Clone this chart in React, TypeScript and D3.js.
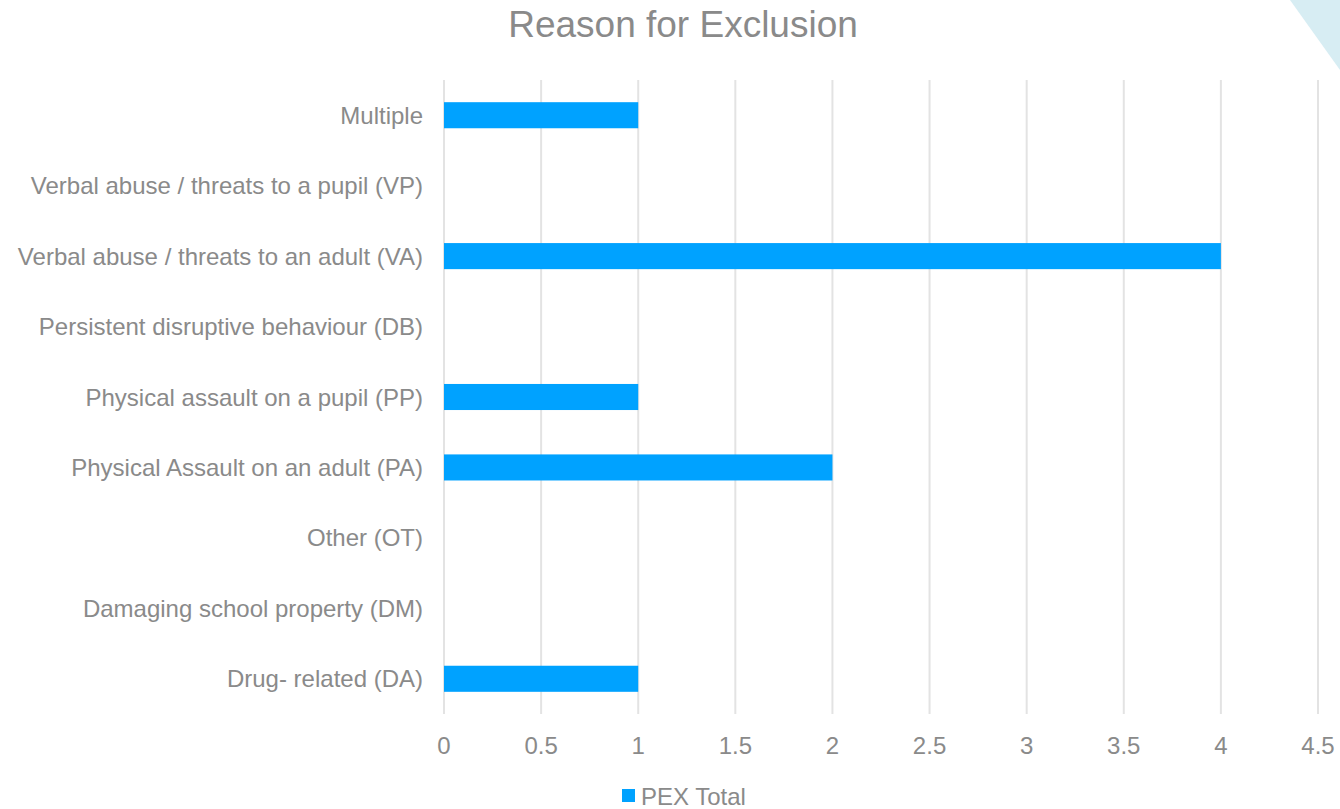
import React from "react";
import * as d3 from "d3";

const categories = [
  "Multiple",
  "Verbal abuse / threats to a pupil (VP)",
  "Verbal abuse / threats to an adult (VA)",
  "Persistent disruptive behaviour (DB)",
  "Physical assault on a pupil (PP)",
  "Physical Assault on an adult (PA)",
  "Other (OT)",
  "Damaging school property (DM)",
  "Drug- related (DA)",
];
const values = [1, 0, 4, 0, 1, 2, 0, 0, 1];
const ticks = [0, 0.5, 1, 1.5, 2, 2.5, 3, 3.5, 4, 4.5];
const seriesName = "PEX Total";
const title = "Reason for Exclusion";

export default function App() {
  const W = 1340, H = 809;
  const x = d3.scaleLinear().domain([0, 4.5]).range([444, 1318]);
  const y = d3.scaleBand().domain(categories).range([80, 714]).paddingInner(0.63).paddingOuter(0.315);
  const font = "'Liberation Sans', Arial, sans-serif";
  const grey = "#8a8a8a";
  return (
    <svg width={W} height={H} style={{ position: "absolute", left: 0, top: 0 }} fontFamily={font}>
      <rect width={W} height={H} fill="#fff" />
      <polygon points="1290,0 1340,0 1340,70" fill="#d7edf3" />
      <text x={683} y={37} textAnchor="middle" fontSize={37} fill={grey}>{title}</text>
      {ticks.map((t) => (
        <g key={t}>
          <line x1={x(t)} x2={x(t)} y1={80} y2={714} stroke="#e3e3e3" strokeWidth={2} />
          <text x={x(t)} y={754} textAnchor="middle" fontSize={24} fill={grey}>{t}</text>
        </g>
      ))}
      {categories.map((c, i) => (
        <g key={c}>
          <text x={423} y={(y(c) as number) + y.bandwidth() / 2 + 8.5} textAnchor="end" fontSize={24} fill={grey}>{c}</text>
          {values[i] > 0 && (
            <rect x={x(0)} y={y(c)} width={x(values[i]) - x(0)} height={y.bandwidth()} fill="#00a2ff" />
          )}
        </g>
      ))}
      <rect x={622} y={789} width={13} height={13} fill="#00a2ff" />
      <text x={641} y={805} fontSize={24} fill={grey}>{seriesName}</text>
    </svg>
  );
}
